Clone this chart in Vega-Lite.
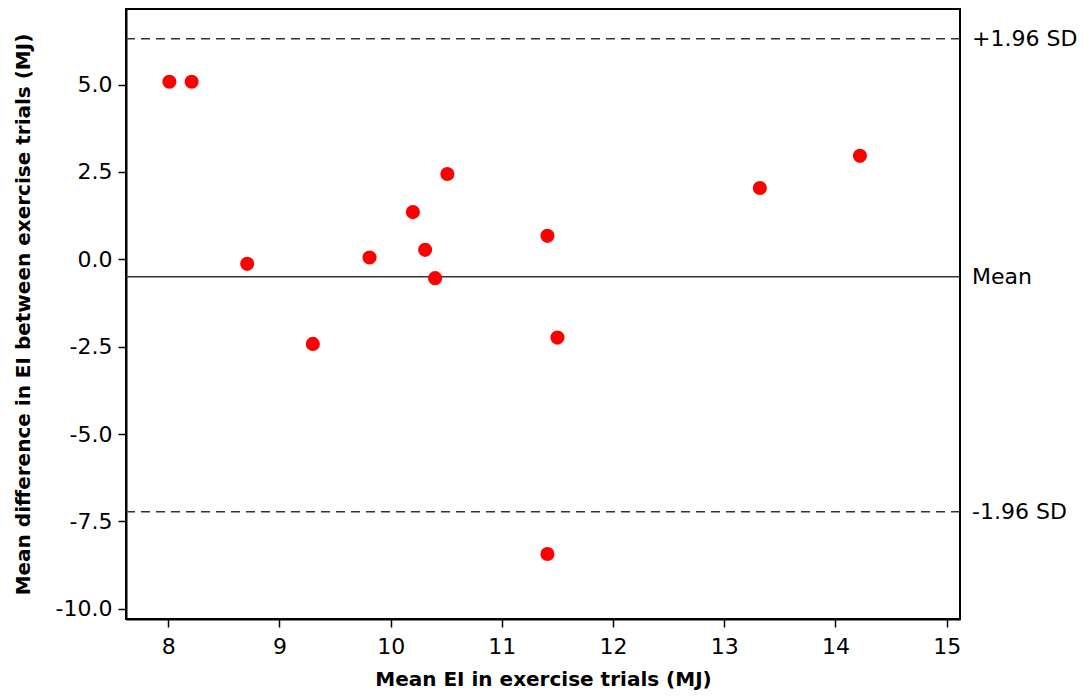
{
  "$schema": "https://vega.github.io/schema/vega-lite/v6.json",
  "autosize": "none",
  "width": 834,
  "height": 610,
  "padding": {"left": 126, "top": 9, "right": 131, "bottom": 78},
  "background": "white",
  "config": {
    "view": {"stroke": "black", "strokeWidth": 2},
    "font": "DejaVu Sans",
    "axis": {
      "grid": false,
      "domainColor": "black",
      "domainWidth": 2,
      "tickColor": "black",
      "tickWidth": 1.5,
      "tickSize": 8,
      "labelFont": "DejaVu Sans",
      "labelFontSize": 22,
      "labelColor": "black",
      "titleFont": "DejaVu Sans",
      "titleFontSize": 20,
      "titleFontWeight": "bold",
      "titleColor": "black"
    }
  },
  "datasets": {
    "points": [
      {"mean_ei": 8.01, "diff_ei": 5.08},
      {"mean_ei": 8.21, "diff_ei": 5.08},
      {"mean_ei": 8.71, "diff_ei": -0.13},
      {"mean_ei": 9.30, "diff_ei": -2.42},
      {"mean_ei": 9.81, "diff_ei": 0.05},
      {"mean_ei": 10.20, "diff_ei": 1.35},
      {"mean_ei": 10.31, "diff_ei": 0.27},
      {"mean_ei": 10.40, "diff_ei": -0.54},
      {"mean_ei": 10.51, "diff_ei": 2.44},
      {"mean_ei": 11.41, "diff_ei": 0.67},
      {"mean_ei": 11.50, "diff_ei": -2.24},
      {"mean_ei": 11.41, "diff_ei": -8.43},
      {"mean_ei": 13.32, "diff_ei": 2.04},
      {"mean_ei": 14.22, "diff_ei": 2.96}
    ],
    "limits": [
      {"label": "+1.96 SD", "value": 6.31, "kind": "limit"},
      {"label": "Mean", "value": -0.5, "kind": "mean"},
      {"label": "-1.96 SD", "value": -7.22, "kind": "limit"}
    ]
  },
  "layer": [
    {
      "data": {"name": "limits"},
      "transform": [{"filter": "datum.kind === 'limit'"}],
      "mark": {"type": "rule", "color": "#333333", "strokeWidth": 1.6, "strokeDash": [9, 6]},
      "encoding": {
        "y": {"field": "value", "type": "quantitative", "scale": {"domain": [-10.29, 7.16]}}
      }
    },
    {
      "data": {"name": "limits"},
      "transform": [{"filter": "datum.kind === 'mean'"}],
      "mark": {"type": "rule", "color": "#333333", "strokeWidth": 1.6},
      "encoding": {
        "y": {"field": "value", "type": "quantitative"}
      }
    },
    {
      "data": {"name": "limits"},
      "mark": {"type": "text", "align": "left", "baseline": "middle", "dx": 12, "fontSize": 22, "color": "black", "font": "DejaVu Sans"},
      "encoding": {
        "x": {"value": "width"},
        "y": {"field": "value", "type": "quantitative"},
        "text": {"field": "label"}
      }
    },
    {
      "data": {"name": "points"},
      "mark": {"type": "circle", "size": 200, "color": "#ff0000", "opacity": 1},
      "encoding": {
        "x": {
          "field": "mean_ei",
          "type": "quantitative",
          "scale": {"domain": [7.62, 15.12], "nice": false, "zero": false},
          "axis": {"values": [8, 9, 10, 11, 12, 13, 14, 15], "title": "Mean EI in exercise trials (MJ)", "labelPadding": 9, "titlePadding": 12}
        },
        "y": {
          "field": "diff_ei",
          "type": "quantitative",
          "scale": {"domain": [-10.29, 7.16], "nice": false, "zero": false},
          "axis": {
            "values": [-10, -7.5, -5, -2.5, 0, 2.5, 5],
            "labelExpr": "datum.value < 0 ? '-' + format(-datum.value, '.1f') : format(datum.value, '.1f')",
            "title": "Mean difference in EI between exercise trials (MJ)",
            "labelPadding": 6,
            "titlePadding": 22
          }
        }
      }
    }
  ]
}
